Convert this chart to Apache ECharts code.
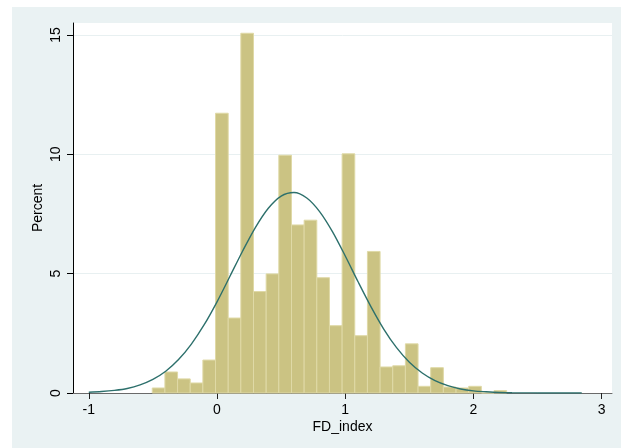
<!DOCTYPE html>
<html><head><meta charset="utf-8">
<script src="https://cdn.jsdelivr.net/npm/echarts@6/dist/echarts.min.js"></script>
<style>
html,body{margin:0;padding:0;background:#fff;}
#bg{position:absolute;left:12px;top:7px;width:609px;height:441px;background:#eaf2f3;}
#c{position:absolute;left:0;top:0;width:623px;height:448px;}
</style>
</head><body><div id="bg"></div><div id="c"></div>
<script>
// Histogram bins (FD_index), percent per bin
const binStart = -0.505;
const binWidth = 0.0987;
const percents = [0.21, 0.88, 0.59, 0.42, 1.38, 11.72, 3.14, 15.07, 4.25, 4.99,
                  9.96, 7.04, 7.24, 4.83, 2.82, 10.02, 2.40, 5.93, 1.09, 1.14,
                  2.06, 0.28, 1.06, 0.25, 0.21, 0.28, 0, 0.10];
// Normal density overlay (percent scale)
const curveX = [-1.0,-0.9,-0.8,-0.7,-0.6,-0.5,-0.4,-0.3,-0.2,-0.1,0.0,0.1,0.2,0.3,0.4,0.5,0.6,0.7,0.8,0.9,
                1.0,1.1,1.2,1.3,1.4,1.5,1.6,1.7,1.8,1.9,2.0,2.1,2.2,2.3,2.4,2.5,2.6,2.7,2.8,2.844];
const curveY = [0.03,0.06,0.11,0.19,0.34,0.57,0.91,1.40,2.05,2.86,3.82,4.88,5.95,6.94,7.74,8.25,8.40,8.17,7.60,6.76,
                5.74,4.66,3.62,2.68,1.90,1.29,0.84,0.52,0.31,0.17,0.09,0.05,0.02,0.01,0.005,0.002,0.001,0,0,0];
const xTicks = [-1, 0, 1, 2, 3];
const yTicks = [0, 5, 10, 15];

const barData = percents.map((v, i) => [binStart + i * binWidth, binStart + (i + 1) * binWidth, v]);
const lineData = curveX.map((x, i) => [x, curveY[i]]);

const font = 'Liberation Sans, Arial, sans-serif';
const chart = echarts.init(document.getElementById('c'), null, {renderer: 'canvas'});
chart.setOption({
  animation: false,
  backgroundColor: 'transparent',
  grid: {left: 73, right: 11, top: 23, bottom: 55, show: true, backgroundColor: '#ffffff', borderWidth: 0},
  xAxis: {
    type: 'value', min: -1.123, max: 3.08,
    name: 'FD_index', nameLocation: 'middle', nameGap: 27, nameMoveOverlap: false,
    nameTextStyle: {fontFamily: font, fontSize: 14, color: '#000'},
    axisLine: {show: true, onZero: false, lineStyle: {color: '#6a6a6a', width: 1}},
    axisTick: {show: true, length: 6, customValues: xTicks, lineStyle: {color: '#222'}},
    axisLabel: {customValues: xTicks, margin: 10, fontFamily: font, fontSize: 14, color: '#000'},
    splitLine: {show: false}
  },
  yAxis: {
    type: 'value', min: 0, max: 15.5,
    name: 'Percent', nameLocation: 'middle', nameGap: 28, nameRotate: 90, nameMoveOverlap: false,
    nameTextStyle: {fontFamily: font, fontSize: 14, color: '#000'},
    axisLine: {show: true, onZero: false, lineStyle: {color: '#000', width: 1}},
    axisTick: {show: true, length: 6, customValues: yTicks, lineStyle: {color: '#000'}},
    axisLabel: {customValues: yTicks, rotate: 90, margin: 10, fontFamily: font, fontSize: 14, color: '#000'},
    splitLine: {show: true, lineStyle: {color: '#e8f0f1', width: 1}}
  },
  series: [
    {
      type: 'custom',
      data: barData,
      encode: {x: [0, 1], y: 2},
      renderItem: function (params, api) {
        const p0 = api.coord([api.value(0), 0]);
        const p1 = api.coord([api.value(1), api.value(2)]);
        return {
          type: 'rect',
          shape: {x: p0[0], y: p1[1], width: p1[0] - p0[0], height: p0[1] - p1[1]},
          style: {fill: '#cbc383', stroke: '#dfd9a6', lineWidth: 1}
        };
      },
      z: 2
    },
    {
      type: 'line',
      data: lineData,
      smooth: 0.3,
      showSymbol: false,
      lineStyle: {color: '#2d706c', width: 1.4},
      z: 3
    }
  ]
});
</script>
</body></html>
